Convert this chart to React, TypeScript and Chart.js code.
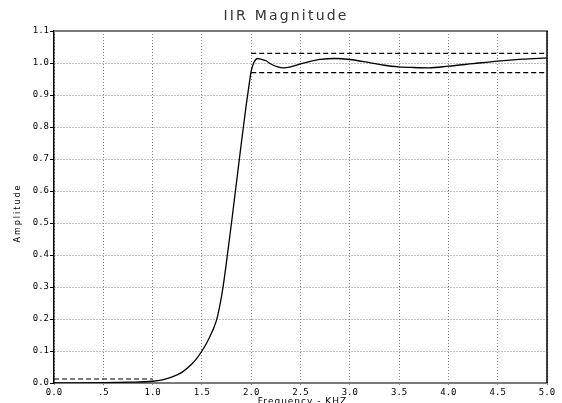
import React, { useEffect, useRef } from "react";
import { Chart, registerables } from "chart.js";

Chart.register(...registerables);

// ---- Data ----
const FREQ = [
  0.0, 0.25, 0.5, 0.75, 1.0, 1.1, 1.2, 1.3, 1.4, 1.45, 1.5, 1.55, 1.6, 1.625,
  1.65, 1.675, 1.7, 1.725, 1.75, 1.8, 1.85, 1.9, 1.95, 1.98, 2.0, 2.03, 2.065,
  2.1, 2.15, 2.2, 2.27, 2.325, 2.4, 2.5, 2.6, 2.7, 2.85, 3.0, 3.2, 3.35, 3.5,
  3.65, 3.8, 4.0, 4.25, 4.5, 4.75, 5.0,
];
const AMPLITUDE = [
  0.0, 0.0003, 0.001, 0.0025, 0.0055, 0.01, 0.019, 0.034, 0.06, 0.078, 0.1,
  0.126, 0.158, 0.176, 0.198, 0.232, 0.272, 0.322, 0.38, 0.5, 0.625, 0.75,
  0.87, 0.935, 0.975, 1.003, 1.014, 1.012, 1.007, 0.997, 0.988, 0.985, 0.988,
  0.997, 1.005, 1.011, 1.014, 1.011, 1.001, 0.993, 0.988, 0.986, 0.985, 0.99,
  0.998, 1.006, 1.012, 1.016,
];
const PASSBAND_FREQ = [2.0, 5.0];
const PASSBAND_UPPER = [1.03, 1.03];
const PASSBAND_LOWER = [0.97, 0.97];
const STOPBAND_FREQ = [0.0, 1.0];
const STOPBAND_LIMIT = [0.0125, 0.0125];

const X_TICKS = [0, 0.5, 1.0, 1.5, 2.0, 2.5, 3.0, 3.5, 4.0, 4.5, 5.0];
const X_TICK_LABELS = ["0.0", ".5", "1.0", "1.5", "2.0", "2.5", "3.0", "3.5", "4.0", "4.5", "5.0"];
const Y_TICKS = [0, 0.1, 0.2, 0.3, 0.4, 0.5, 0.6, 0.7, 0.8, 0.9, 1.0, 1.1];
const Y_TICK_LABELS = ["0.0", "0.1", "0.2", "0.3", "0.4", "0.5", "0.6", "0.7", "0.8", "0.9", "1.0", "1.1"];

const TITLE = "IIR Magnitude";
const X_TITLE = "Frequency - KHZ";
const Y_TITLE = "Amplitude";

const pts = (xs: number[], ys: number[]) => xs.map((x, i) => ({ x, y: ys[i] }));

const decorPlugin = {
  id: "decor",
  afterDraw(chart: any) {
    const { ctx, chartArea: a } = chart;
    ctx.save();
    // top frame (grey, thick)
    ctx.strokeStyle = "#7a7a7a";
    ctx.lineWidth = 2;
    ctx.beginPath();
    ctx.moveTo(a.left, a.top);
    ctx.lineTo(a.right + 1, a.top);
    ctx.stroke();
    // right frame (black)
    ctx.strokeStyle = "#000";
    ctx.lineWidth = 1.5;
    ctx.beginPath();
    ctx.moveTo(a.right, a.top);
    ctx.lineTo(a.right, a.bottom);
    ctx.stroke();

    // title
    ctx.fillStyle = "#333";
    ctx.textAlign = "center";
    ctx.textBaseline = "alphabetic";
    ctx.font = '14px "DejaVu Sans"';
    (ctx as any).letterSpacing = "2.2px";
    ctx.fillText(TITLE, chart.width / 2 + 5, 20);

    // x title
    ctx.fillStyle = "#000";
    ctx.font = '9px "DejaVu Sans"';
    (ctx as any).letterSpacing = "1px";
    ctx.fillText(X_TITLE, (a.left + a.right) / 2 + 2, 404);

    // y title
    ctx.font = '8px "DejaVu Sans"';
    (ctx as any).letterSpacing = "2px";
    ctx.translate(20, (a.top + a.bottom) / 2 + 6);
    ctx.rotate(-Math.PI / 2);
    ctx.fillText(Y_TITLE, 0, 0);
    ctx.restore();
  },
};

export default function App() {
  const ref = useRef<HTMLCanvasElement | null>(null);

  useEffect(() => {
    document.body.style.margin = "0";
    const canvas = ref.current;
    if (!canvas) return;
    const dashed = {
      borderColor: "#000",
      borderWidth: 1.2,
      borderDash: [5, 3],
      pointRadius: 0,
      fill: false,
    };
    const chart = new Chart(canvas, {
      type: "line",
      data: {
        datasets: [
          {
            label: "Magnitude",
            data: pts(FREQ, AMPLITUDE),
            borderColor: "#000",
            borderWidth: 1.3,
            pointRadius: 0,
            cubicInterpolationMode: "monotone",
            fill: false,
          },
          { label: "Passband upper", data: pts(PASSBAND_FREQ, PASSBAND_UPPER), ...dashed },
          { label: "Passband lower", data: pts(PASSBAND_FREQ, PASSBAND_LOWER), ...dashed },
          { label: "Stopband", data: pts(STOPBAND_FREQ, STOPBAND_LIMIT), ...dashed },
        ],
      },
      options: {
        animation: false,
        responsive: false,
        maintainAspectRatio: false,
        layout: { padding: { top: 31, left: 0, right: 15, bottom: 0 } },
        plugins: {
          legend: { display: false },
          title: { display: false },
          tooltip: { enabled: false },
        },
        scales: {
          x: {
            type: "linear",
            min: 0,
            max: 5,
            afterFit: (s: any) => {
              s.height = 20;
            },
            afterBuildTicks: (s: any) => {
              s.ticks = X_TICKS.map((v) => ({ value: v }));
            },
            ticks: {
              autoSkip: false,
              maxRotation: 0,
              padding: 2,
              color: "#000",
              font: { family: '"DejaVu Sans Mono"', size: 9 },
              callback: (v: any) => {
                const i = X_TICKS.findIndex((t) => Math.abs(t - Number(v)) < 1e-6);
                return i >= 0 ? X_TICK_LABELS[i] : "";
              },
            },
            grid: {
              color: "#808080",
              lineWidth: 1,
              drawTicks: true,
              tickLength: 2,
              tickColor: "#7a7a7a",
              tickBorderDash: [],
            },
            border: { display: true, color: "#7a7a7a", width: 2, dash: [1, 2] },
          },
          y: {
            type: "linear",
            min: 0,
            max: 1.1,
            afterFit: (s: any) => {
              s.width = 54;
            },
            afterBuildTicks: (s: any) => {
              s.ticks = Y_TICKS.map((v) => ({ value: v }));
            },
            ticks: {
              autoSkip: false,
              padding: 1,
              color: "#000",
              font: { family: '"DejaVu Sans Mono"', size: 9 },
              callback: (v: any) => {
                const i = Y_TICKS.findIndex((t) => Math.abs(t - Number(v)) < 1e-6);
                return i >= 0 ? Y_TICK_LABELS[i] : "";
              },
            },
            grid: {
              color: "#808080",
              lineWidth: 1,
              drawTicks: true,
              tickLength: 4,
              tickColor: "#000",
              tickBorderDash: [],
            },
            border: { display: true, color: "#000", width: 1.5, dash: [1, 2] },
          },
        },
      },
      plugins: [decorPlugin],
    } as any);
    return () => chart.destroy();
  }, []);

  return (
    <div style={{ width: 562, height: 403 }}>
      <canvas ref={ref} width={562} height={403} style={{ display: "block" }} />
    </div>
  );
}
